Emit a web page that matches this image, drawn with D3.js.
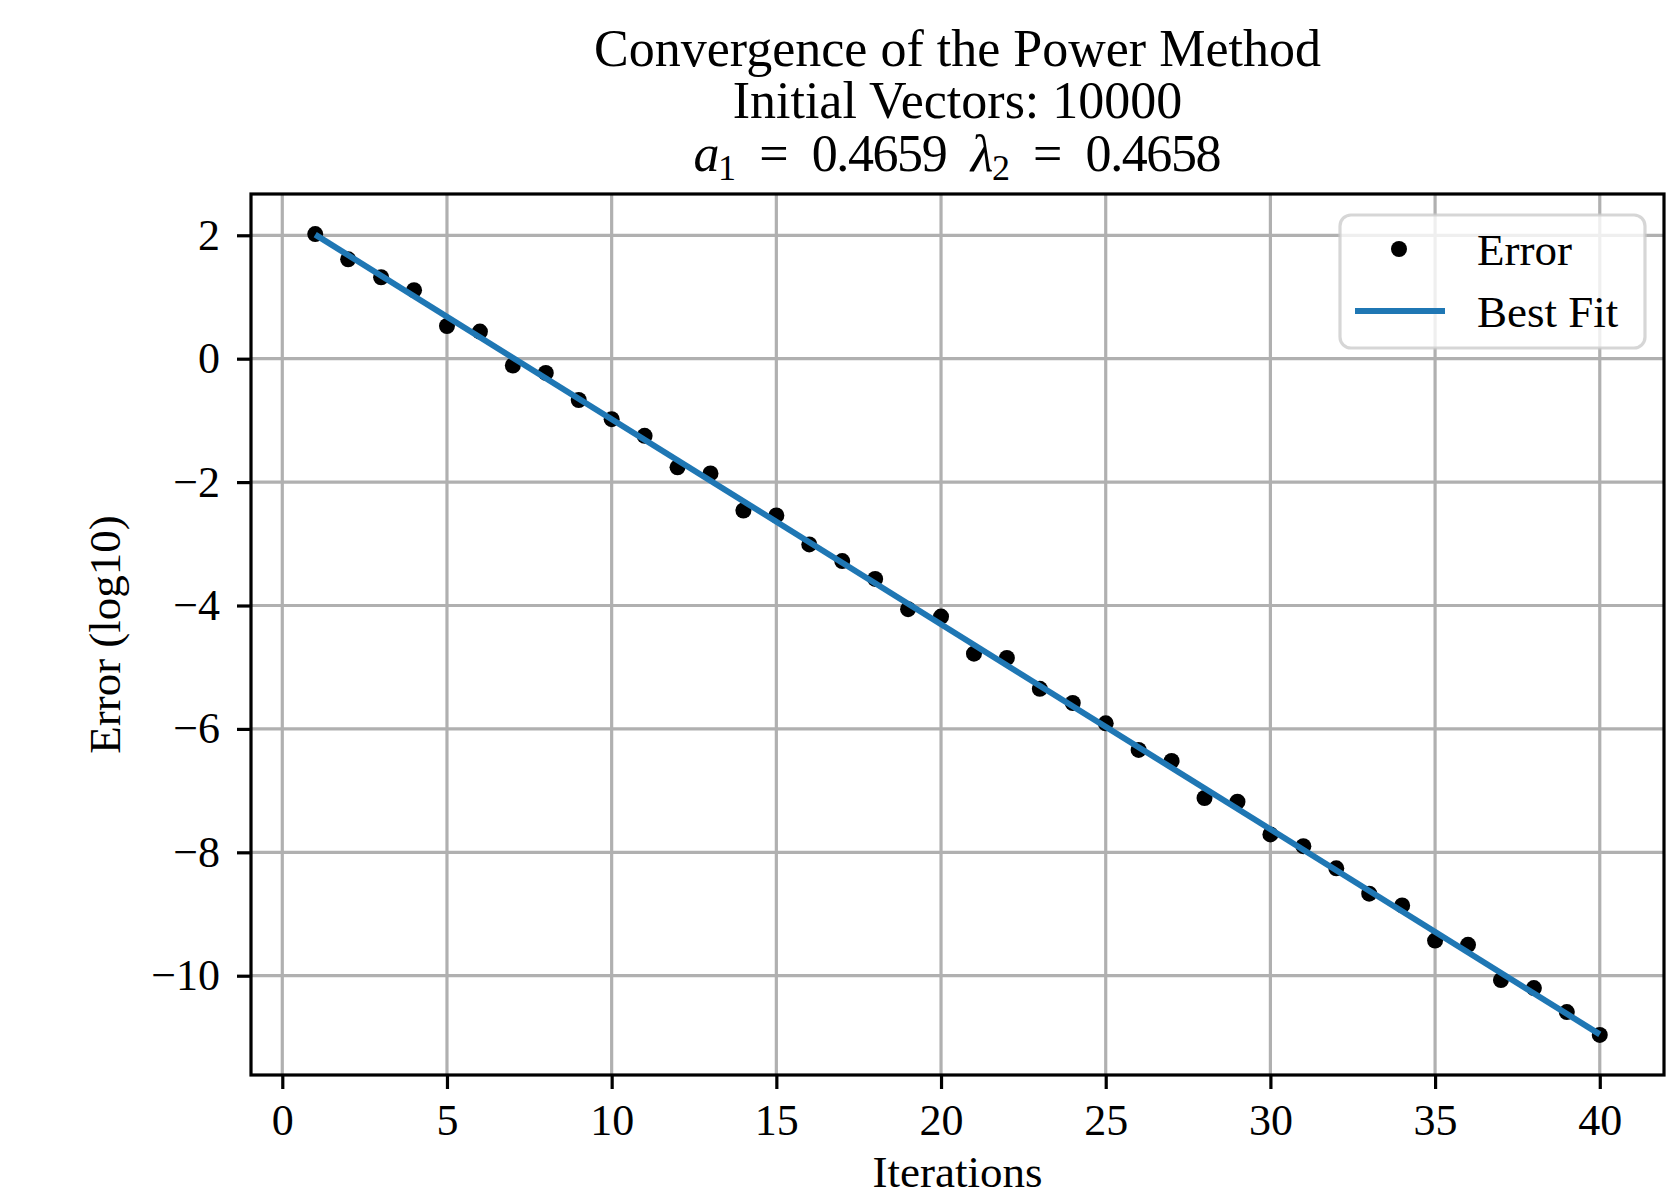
<!DOCTYPE html>
<html>
<head>
<meta charset="utf-8">
<script src="https://cdn.jsdelivr.net/npm/d3@7"></script>
<style>
  body { margin: 0; background: #fff; }
  svg { display: block; font-family: "Liberation Serif", "DejaVu Serif", serif; }
  .grid line { stroke: #b0b0b0; stroke-width: 3.2; }
  .axis path, .axis line { stroke: #000; stroke-width: 3.2; }
  .axis text { font-size: 44px; fill: #000; font-family: "Liberation Serif", "DejaVu Serif", serif; }
</style>
</head>
<body>
<div id="chart"></div>
<script>
// Iterations and the log10 error
const iterations = [1, 2, 3, 4, 5, 6, 7, 8, 9, 10,
    11, 12, 13, 14, 15, 16, 17, 18, 19, 20,
    21, 22, 23, 24, 25, 26, 27, 28, 29, 30,
    31, 32, 33, 34, 35, 36, 37, 38, 39, 40];
const errorLog = [2.02, 1.61, 1.32, 1.11, 0.53, 0.44, -0.11, -0.23, -0.67, -0.98,
    -1.25, -1.76, -1.86, -2.46, -2.54, -3.01, -3.28, -3.57, -4.06, -4.18,
    -4.78, -4.85, -5.35, -5.58, -5.91, -6.34, -6.52, -7.12, -7.18, -7.71,
    -7.90, -8.26, -8.67, -8.86, -9.43, -9.50, -10.07, -10.20, -10.59, -10.96];

// Best fit line end points
const fitX = [1, 40];
const fitY = [2.01, -10.95];

// Tick values
const xTicks = [0, 5, 10, 15, 20, 25, 30, 35, 40];
const yTicks = [-10, -8, -6, -4, -2, 0, 2];

const titleLines = ["Convergence of the Power Method", "Initial Vectors: 10000"];
const legendLabels = ["Error", "Best Fit"];

const W = 1669, H = 1199;
const plot = {left: 251, right: 1664, top: 194, bottom: 1075};

function padded(ext) {
    const p = (ext[1] - ext[0]) * 0.05;
    return [ext[0] - p, ext[1] + p];
}

const xScale = d3.scaleLinear()
    .domain(padded(d3.extent(iterations)))
    .range([plot.left, plot.right]);

const yScale = d3.scaleLinear()
    .domain(padded(d3.extent(errorLog)))
    .range([plot.bottom, plot.top]);

const svg = d3.select("#chart").append("svg")
    .attr("width", W)
    .attr("height", H);

svg.append("rect").attr("width", W).attr("height", H).attr("fill", "#fff");

// Grid
const grid = svg.append("g").attr("class", "grid");
grid.selectAll(".gx").data(xTicks).enter().append("line")
    .attr("x1", d => xScale(d)).attr("x2", d => xScale(d))
    .attr("y1", plot.top).attr("y2", plot.bottom);
grid.selectAll(".gy").data(yTicks).enter().append("line")
    .attr("x1", plot.left).attr("x2", plot.right)
    .attr("y1", d => yScale(d)).attr("y2", d => yScale(d));

const fmt = d => (d < 0 ? "\u2212" + Math.abs(d) : "" + d);

// Data points
svg.append("g").selectAll("circle")
    .data(iterations)
    .enter().append("circle")
    .attr("cx", d => xScale(d))
    .attr("cy", (d, i) => yScale(errorLog[i]))
    .attr("r", 8)
    .attr("fill", "#000");

// Best fit line
const line = d3.line()
    .x(d => xScale(d[0]))
    .y(d => yScale(d[1]));

svg.append("path")
    .datum(fitX.map((x, i) => [x, fitY[i]]))
    .attr("d", line)
    .attr("fill", "none")
    .attr("stroke", "#1f77b4")
    .attr("stroke-width", 6);

// Axes
const xAxis = svg.append("g")
    .attr("class", "axis")
    .attr("transform", `translate(0,${plot.bottom})`)
    .call(d3.axisBottom(xScale).tickValues(xTicks).tickSize(14).tickSizeOuter(0).tickFormat(fmt))
    .attr("font-family", null).attr("font-size", null);
xAxis.select(".domain").remove();
xAxis.selectAll("text").attr("dy", null).attr("y", 60);

const yAxis = svg.append("g")
    .attr("class", "axis")
    .attr("transform", `translate(${plot.left},0)`)
    .call(d3.axisLeft(yScale).tickValues(yTicks).tickSize(14).tickSizeOuter(0).tickFormat(fmt))
    .attr("font-family", null).attr("font-size", null);
yAxis.select(".domain").remove();
yAxis.selectAll("text").attr("x", -31).attr("dy", "0.32em");

// Frame
svg.append("rect")
    .attr("x", plot.left).attr("y", plot.top)
    .attr("width", plot.right - plot.left)
    .attr("height", plot.bottom - plot.top)
    .attr("fill", "none")
    .attr("stroke", "#000")
    .attr("stroke-width", 3.2);

// Axis labels
svg.append("text")
    .attr("x", (plot.left + plot.right) / 2)
    .attr("y", 1187)
    .attr("text-anchor", "middle")
    .style("font-size", "45px")
    .text("Iterations");

svg.append("text")
    .attr("transform", `translate(120,${(plot.top + plot.bottom) / 2}) rotate(-90)`)
    .attr("text-anchor", "middle")
    .style("font-size", "45px")
    .text("Error (log10)");

// Title
const cx = (plot.left + plot.right) / 2;
svg.selectAll(".title")
    .data(titleLines)
    .enter().append("text")
    .attr("x", cx)
    .attr("y", (d, i) => 66 + i * 52)
    .attr("text-anchor", "middle")
    .style("font-size", "52px")
    .text(d => d);

const t3 = svg.append("text")
    .attr("x", cx)
    .attr("y", 171)
    .attr("text-anchor", "middle")
    .attr("textLength", 528)
    .attr("lengthAdjust", "spacing")
    .style("font-size", "52px");
t3.append("tspan").style("font-style", "italic").text("a");
t3.append("tspan").attr("dy", 9).style("font-size", "36px").text("1");
t3.append("tspan").attr("dy", -9).text("\u2002=\u20020.4659\u2002");
t3.append("tspan").style("font-style", "italic").text("\u03bb");
t3.append("tspan").attr("dy", 9).style("font-size", "36px").text("2");
t3.append("tspan").attr("dy", -9).text("\u2002=\u20020.4658");

// Legend
const legend = svg.append("g");
legend.append("rect")
    .attr("x", 1340).attr("y", 215)
    .attr("width", 305).attr("height", 133)
    .attr("rx", 11)
    .attr("fill", "#fff").attr("fill-opacity", 0.8)
    .attr("stroke", "#cccccc").attr("stroke-opacity", 0.8)
    .attr("stroke-width", 3.2);

legend.append("circle")
    .attr("cx", 1399).attr("cy", 249).attr("r", 8).attr("fill", "#000");
legend.append("line")
    .attr("x1", 1355).attr("x2", 1445)
    .attr("y1", 311).attr("y2", 311)
    .attr("stroke", "#1f77b4").attr("stroke-width", 6);

legend.selectAll(".lt")
    .data(legendLabels)
    .enter().append("text")
    .attr("x", 1477)
    .attr("y", (d, i) => 265 + i * 62)
    .style("font-size", "45px")
    .text(d => d);
</script>
</body>
</html>
